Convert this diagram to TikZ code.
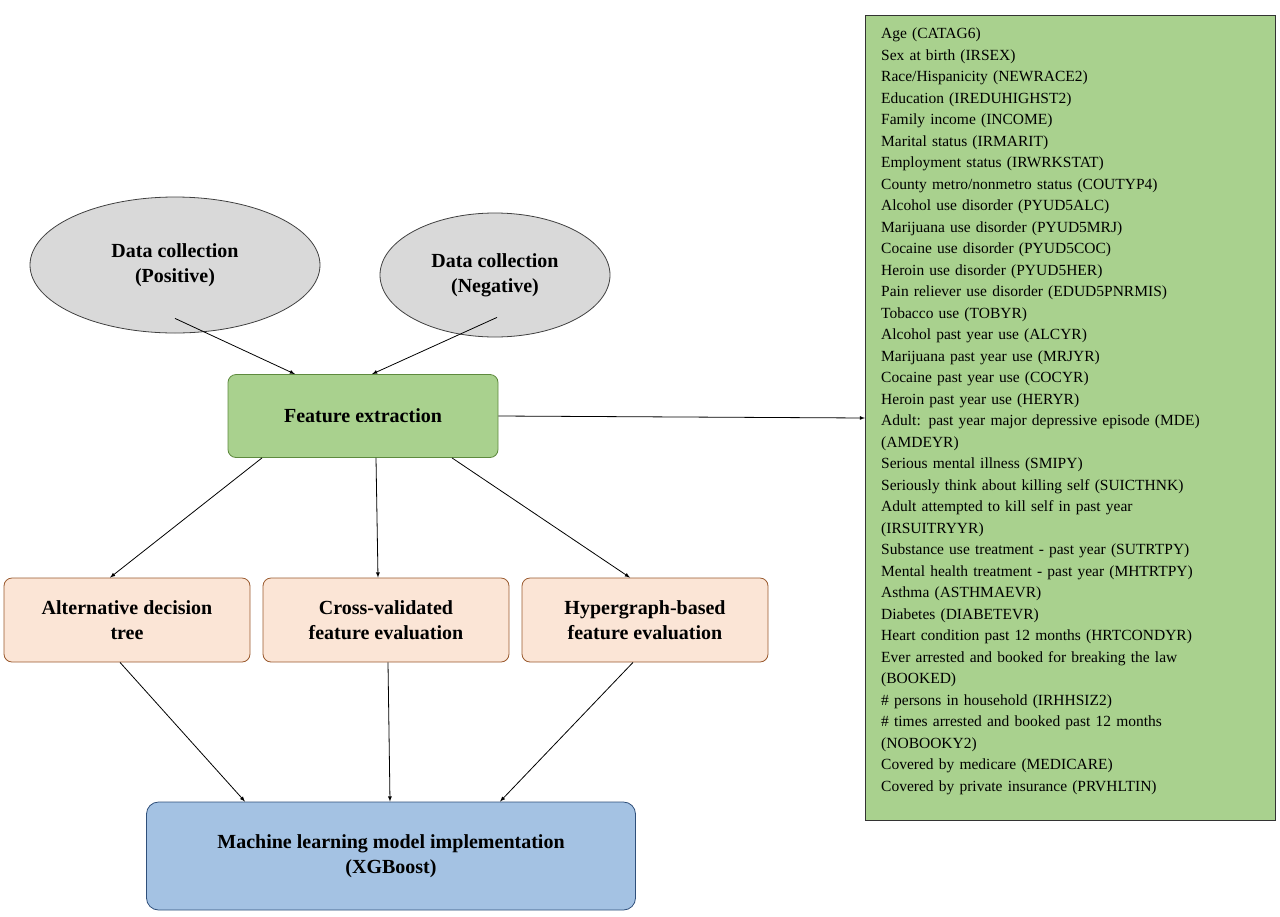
\documentclass[tikz,border=0pt]{standalone}
\usepackage{fontspec}
\setmainfont{Liberation Serif}
\usetikzlibrary{shapes.geometric,positioning}
\definecolor{ellgray}{HTML}{D9D9D9}
\definecolor{featgreen}{HTML}{A9D18E}
\definecolor{featline}{HTML}{5E8A3E}
\definecolor{stepfill}{HTML}{FBE5D6}
\definecolor{stepline}{HTML}{9A5A2E}
\definecolor{mlblue}{HTML}{A4C2E3}
\definecolor{mlline}{HTML}{2F4F7A}
\tikzstyle{arr} = [-latex, thick, black]
\begin{document}
\begin{tikzpicture}[x=1pt,y=-1pt,
  coll/.style = {draw=black!75, thick, ellipse, fill=ellgray, align=center, font=\fontsize{20}{25}\selectfont\bfseries},
  feat/.style = {draw=featline, thick, rounded corners=8pt, fill=featgreen, align=center, font=\fontsize{20}{25}\selectfont\bfseries},
  eval/.style = {draw=stepline, thick, rounded corners=8pt, fill=stepfill, align=center, minimum width=246pt, minimum height=84pt, font=\fontsize{20}{25}\selectfont\bfseries},
  ml/.style = {draw=mlline, thick, rounded corners=12pt, fill=mlblue, align=center, minimum width=489pt, minimum height=108pt, font=\fontsize{20}{25}\selectfont\bfseries},
  vars/.style = {fill=featgreen, align=left, anchor=north west, inner sep=0pt, text width=392pt, font=\fontsize{15.5}{21.5}\selectfont}]
  \useasboundingbox (0,0) rectangle (1280,916);
  \node[coll, minimum width=290pt, minimum height=136pt] (pos) at (175,265) {Data collection\\(Positive)};
  \node[coll, minimum width=230pt, minimum height=124pt] (neg) at (495,275) {Data collection\\(Negative)};
  \node[feat, minimum width=270pt, minimum height=83pt] (fe) at (363,416) {Feature extraction};
  \node[eval] (adt) at (127,620) {Alternative decision\\tree};
  \node[eval] (cv) at (386,620) {Cross-validated\\feature evaluation};
  \node[eval] (hg) at (645,620) {Hypergraph-based\\feature evaluation};
  \node[ml] (impl) at (391,856) {Machine learning model implementation\\(XGBoost)};
  % variable list
  \filldraw[fill=featgreen, draw=black!80, thick] (865,15) rectangle (1275,820);
  \coordinate (listw) at (865,418);
  \node[vars] (list) at (881,28) {%
    Age (CATAG6)\\
    Sex at birth (IRSEX)\\
    Race/Hispanicity (NEWRACE2)\\
    Education (IREDUHIGHST2)\\
    Family income (INCOME)\\
    Marital status (IRMARIT)\\
    Employment status (IRWRKSTAT)\\
    County metro/nonmetro status (COUTYP4)\\
    Alcohol use disorder (PYUD5ALC)\\
    Marijuana use disorder (PYUD5MRJ)\\
    Cocaine use disorder (PYUD5COC)\\
    Heroin use disorder (PYUD5HER)\\
    Pain reliever use disorder (EDUD5PNRMIS)\\
    Tobacco use (TOBYR)\\
    Alcohol past year use (ALCYR)\\
    Marijuana past year use (MRJYR)\\
    Cocaine past year use (COCYR)\\
    Heroin past year use (HERYR)\\
    Adult: past year major depressive episode (MDE)\\
    (AMDEYR)\\
    Serious mental illness (SMIPY)\\
    Seriously think about killing self (SUICTHNK)\\
    Adult attempted to kill self in past year\\
    (IRSUITRYYR)\\
    Substance use treatment - past year (SUTRTPY)\\
    Mental health treatment - past year (MHTRTPY)\\
    Asthma (ASTHMAEVR)\\
    Diabetes (DIABETEVR)\\
    Heart condition past 12 months (HRTCONDYR)\\
    Ever arrested and booked for breaking the law\\
    (BOOKED)\\
    \# persons in household (IRHHSIZ2)\\
    \# times arrested and booked past 12 months\\
    (NOBOOKY2)\\
    Covered by medicare (MEDICARE)\\
    Covered by private insurance (PRVHLTIN)};

  \draw[arr] (pos.south -| 175,0) ++(0,-15) -- (fe.north -| 295,0);
  \draw[arr] (neg.south -| 497,0) ++(0,-20) -- (fe.north -| 372,0);
  \draw[arr] (fe.east) -- (listw);
  \draw[arr] (fe.south -| 262,0) -- (adt.north -| 110,0);
  \draw[arr] (fe.south -| 376,0) -- (cv.north -| 378,0);
  \draw[arr] (fe.south -| 452,0) -- (hg.north -| 630,0);
  \draw[arr] (adt.south -| 120,0) -- (impl.north -| 245,0);
  \draw[arr] (cv.south -| 388,0) -- (impl.north -| 390,0);
  \draw[arr] (hg.south -| 633,0) -- (impl.north -| 500,0);
\end{tikzpicture}
\end{document}
